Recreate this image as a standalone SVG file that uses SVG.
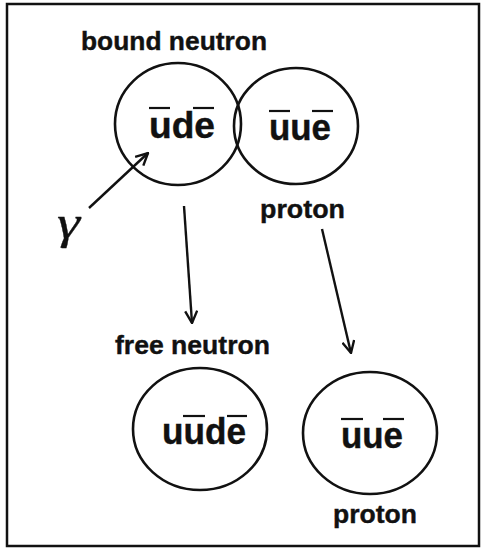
<svg xmlns="http://www.w3.org/2000/svg" width="482" height="550" viewBox="0 0 482 550">
<style>
.lbl{font-family:"Liberation Sans",Arial,sans-serif;font-weight:bold;font-size:26px;fill:#111;stroke:#111;stroke-width:0.4}
.q{font-family:"Liberation Sans",Arial,sans-serif;font-weight:bold;font-size:36px;fill:#111;stroke:#111;stroke-width:0.4}
.c{fill:none;stroke:#111;stroke-width:2.6}
.bar{stroke:#111;stroke-width:2.2}
.conn{fill:none;stroke:#111;stroke-width:2.4}
</style>
<defs>
<marker id="ah" viewBox="0 0 14 14" refX="13" refY="7" markerWidth="14" markerHeight="14" markerUnits="userSpaceOnUse" orient="auto">
<path d="M1,1 L13,7 L1,13" fill="none" stroke="#111" stroke-width="2.4"/>
</marker>
</defs>
<rect x="0" y="0" width="482" height="550" fill="#fff"/>
<rect x="7" y="4" width="472" height="542" fill="none" stroke="#111" stroke-width="2.5"/>
<g id="bound-neutron">
<text class="lbl" x="81" y="50" textLength="186" lengthAdjust="spacingAndGlyphs">bound neutron</text>
<ellipse class="c" cx="178" cy="124" rx="63" ry="61"/>
<text class="q" x="149" y="138" textLength="66" lengthAdjust="spacingAndGlyphs">ude</text>
<line class="bar" x1="149" y1="108" x2="170" y2="108"/>
<line class="bar" x1="193" y1="108" x2="214" y2="108"/>
</g>
<g id="bound-proton">
<ellipse class="c" cx="296" cy="126" rx="62" ry="58"/>
<text class="q" x="269" y="140" textLength="62" lengthAdjust="spacingAndGlyphs">uue</text>
<line class="bar" x1="269" y1="111" x2="290" y2="111"/>
<line class="bar" x1="312" y1="111" x2="333" y2="111"/>
<text class="lbl" x="260" y="218" textLength="85" lengthAdjust="spacingAndGlyphs">proton</text>
</g>
<g id="gamma">
<text x="57" y="238" font-family="'Liberation Serif','Times New Roman',serif" font-style="italic" font-size="46" fill="#111" stroke="#111" stroke-width="0.3" textLength="23" lengthAdjust="spacingAndGlyphs">γ</text>
</g>
<g id="free-neutron">
<text class="lbl" x="115" y="354" textLength="155" lengthAdjust="spacingAndGlyphs">free neutron</text>
<ellipse class="c" cx="200" cy="429" rx="67" ry="61"/>
<text class="q" x="162" y="444" textLength="84" lengthAdjust="spacingAndGlyphs">uude</text>
<line class="bar" x1="183" y1="416" x2="205" y2="416"/>
<line class="bar" x1="227" y1="416" x2="247" y2="416"/>
</g>
<g id="free-proton">
<ellipse class="c" cx="370" cy="433" rx="67" ry="61"/>
<text class="q" x="341" y="448" textLength="62" lengthAdjust="spacingAndGlyphs">uue</text>
<line class="bar" x1="341" y1="419" x2="363" y2="419"/>
<line class="bar" x1="383" y1="419" x2="404" y2="419"/>
<text class="lbl" x="333" y="523" textLength="84" lengthAdjust="spacingAndGlyphs">proton</text>
</g>
<g id="connectors">
<line class="conn" x1="89" y1="208" x2="148" y2="153" marker-end="url(#ah)"/>
<line class="conn" x1="184" y1="206" x2="192" y2="323" marker-end="url(#ah)"/>
<line class="conn" x1="322" y1="229" x2="351" y2="353" marker-end="url(#ah)"/>
</g>
</svg>
